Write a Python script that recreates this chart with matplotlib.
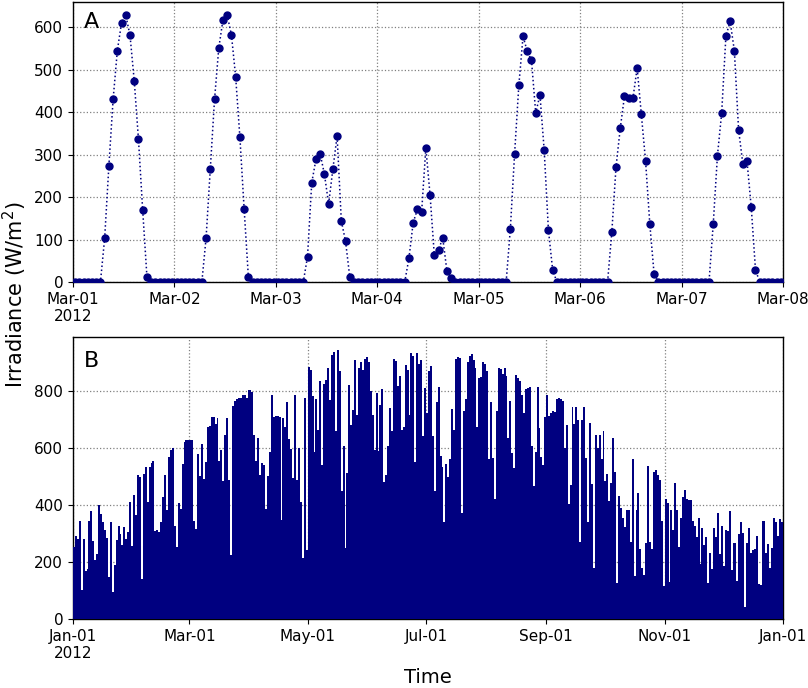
import numpy as np
import pandas as pd
import matplotlib
matplotlib.use("Agg")
import matplotlib.pyplot as plt
import matplotlib.dates as mdates
from matplotlib.ticker import FuncFormatter

# ---------------- Data ----------------
# Panel A: hourly irradiance (W/m2), 1-7 March 2012 (values at hh:30)
mar01 = [0, 0, 0, 0, 0, 0, 0, 103, 274, 430, 545, 611, 628, 581, 474, 336, 169, 13, 0, 0, 0, 0, 0, 0]
mar02 = [0, 0, 0, 0, 0, 0, 0, 104, 267, 430, 551, 618, 628, 582, 483, 341, 173, 13, 0, 0, 0, 0, 0, 0]
mar03 = [0, 0, 0, 0, 0, 0, 0, 60, 234, 289, 302, 254, 184, 266, 344, 144, 96, 12, 0, 0, 0, 0, 0, 0]
mar04 = [0, 0, 0, 0, 0, 0, 0, 56, 140, 171, 165, 316, 205, 64, 76, 104, 25, 10, 0, 0, 0, 0, 0, 0]
mar05 = [0, 0, 0, 0, 0, 0, 0, 126, 302, 463, 579, 543, 522, 398, 441, 311, 123, 29, 0, 0, 0, 0, 0, 0]
mar06 = [0, 0, 0, 0, 0, 0, 0, 117, 271, 362, 438, 434, 433, 504, 395, 284, 136, 20, 0, 0, 0, 0, 0, 0]
mar07 = [0, 0, 0, 0, 0, 0, 0, 136, 298, 398, 579, 614, 545, 359, 279, 284, 176, 29, 0, 0, 0, 0, 0, 0]
week_values = mar01 + mar02 + mar03 + mar04 + mar05 + mar06 + mar07

# Panel B: daily peak irradiance (W/m2), 2012
year_peaks = [
    253, 292, 282, 343, 102, 282, 170, 176, 345, 379,
    274, 206, 229, 401, 370, 339, 312, 286, 147, 339,
    94, 188, 279, 326, 300, 259, 324, 281, 306, 411,
    256, 435, 364, 505, 500, 141, 508, 533, 412, 533,
    549, 556, 309, 312, 306, 342, 429, 504, 382, 568,
    592, 601, 327, 253, 409, 385, 545, 620, 629, 629,
    628, 628, 344, 316, 578, 503, 614,
    492, 553, 674, 678, 711, 709, 684, 705, 554, 594, 486, 646, 705, 488, 224, 747, 765, 773, 776,
    776, 788, 788, 776, 803, 806, 796, 647, 556, 635, 504, 547, 541, 388,
    502, 588, 785, 709, 714, 714, 709, 347, 706, 673, 762, 633, 596, 496, 785, 488, 600, 411, 215, 777,
    241, 885, 876, 782, 586, 771, 665, 835, 541, 827, 841, 882, 768, 926, 938, 659, 944, 871, 451, 606,
    250, 512, 821, 680, 735, 909, 716, 880, 903, 874, 914, 920, 903, 802, 715, 594, 792, 591, 751, 808,
    482, 506, 608, 741, 659, 914, 906, 818, 855, 665, 676, 891, 876, 718, 933, 924, 550, 935, 894, 908,
    641, 812, 724, 871,
    888, 644, 450, 761, 814, 573, 535, 341, 545, 500, 562, 738, 665, 914, 919, 918, 371, 729, 771, 904,
    924, 932, 908, 882, 676, 847, 849, 903, 897, 871, 562, 761, 567, 421, 729, 882, 879, 861, 882, 853,
    635, 767, 582, 529, 856, 845, 835, 785, 724, 808, 813, 815, 606, 468, 585, 815, 671, 568, 541, 709,
    785, 714, 724, 732, 727, 773, 776, 773, 765, 600, 682, 403, 471, 745, 685, 745, 700, 269, 700, 744,
    565, 341, 688, 473, 180, 647, 600, 647, 561, 659, 486, 510, 416,
    476, 635, 518, 127, 433, 391, 356, 324, 382, 382, 271, 561, 151, 382, 441, 247, 180, 153, 268, 538,
    271, 245, 515, 524, 506, 488, 344, 115, 420, 406, 129, 382, 312, 476, 382, 253, 356, 427, 453, 420,
    418, 418, 344, 326, 288, 356, 194, 320, 259, 288, 126, 232, 176, 320, 288, 373, 227, 327, 185, 314,
    308, 379, 171, 267, 267, 135, 300, 341, 302, 41, 268, 321, 232, 244, 247, 292, 124, 118, 344, 345,
    232, 265, 179, 251, 353, 341, 290, 350, 340,
]

week_times = pd.date_range("2012-03-01 00:30", periods=len(week_values), freq="h")
year_days = pd.date_range("2012-01-01 12:00", periods=len(year_peaks), freq="D")

# ---------------- Figure ----------------
fig = plt.figure(figsize=(8.08, 6.88), dpi=100)
axA = fig.add_axes([0.0903, 0.590, 0.8787, 0.407])
axB = fig.add_axes([0.0903, 0.1003, 0.8787, 0.4097])

color = "#000080"

def first_with_year(x, pos):
    d = mdates.num2date(x)
    s = d.strftime("%b-%d")
    if pos == 0:
        s += "\n" + d.strftime("%Y")
    return s

# Panel A
axA.plot(week_times, week_values, linestyle=":", linewidth=1.1, color=color,
         marker="o", markersize=5, zorder=3)
axA.set_xlim(pd.Timestamp("2012-03-01"), pd.Timestamp("2012-03-08"))
axA.set_ylim(bottom=0)
axA.set_yticks([0, 100, 200, 300, 400, 500, 600])
axA.xaxis.set_major_locator(mdates.DayLocator())
axA.xaxis.set_major_formatter(FuncFormatter(first_with_year))
axA.grid(True, linestyle=":", color="gray", linewidth=0.9)
axA.set_axisbelow(True)
axA.text(0.015, 0.965, "A", transform=axA.transAxes, fontsize=16, va="top", ha="left")

# Panel B
axB.bar(year_days, year_peaks, width=1.0, color=color, linewidth=0, zorder=3)
axB.set_xlim(pd.Timestamp("2012-01-01"), pd.Timestamp("2013-01-01"))
axB.set_ylim(0, 990)
axB.set_yticks([0, 200, 400, 600, 800])
axB.xaxis.set_major_locator(mdates.MonthLocator(bymonth=[1, 3, 5, 7, 9, 11]))
axB.xaxis.set_major_formatter(FuncFormatter(first_with_year))
axB.grid(True, linestyle=":", color="gray", linewidth=0.9)
axB.text(0.015, 0.95, "B", transform=axB.transAxes, fontsize=16, va="top", ha="left")

for ax in (axA, axB):
    ax.tick_params(labelsize=11)
    for sp in ax.spines.values():
        sp.set_linewidth(1.0)

fig.text(0.019, 0.572, "Irradiance (W/m$^2$)", rotation=90, fontsize=15,
         ha="center", va="center")
fig.text(0.53, 0.015, "Time", fontsize=14, ha="center", va="center")

fig.savefig("out.png", dpi=100)
